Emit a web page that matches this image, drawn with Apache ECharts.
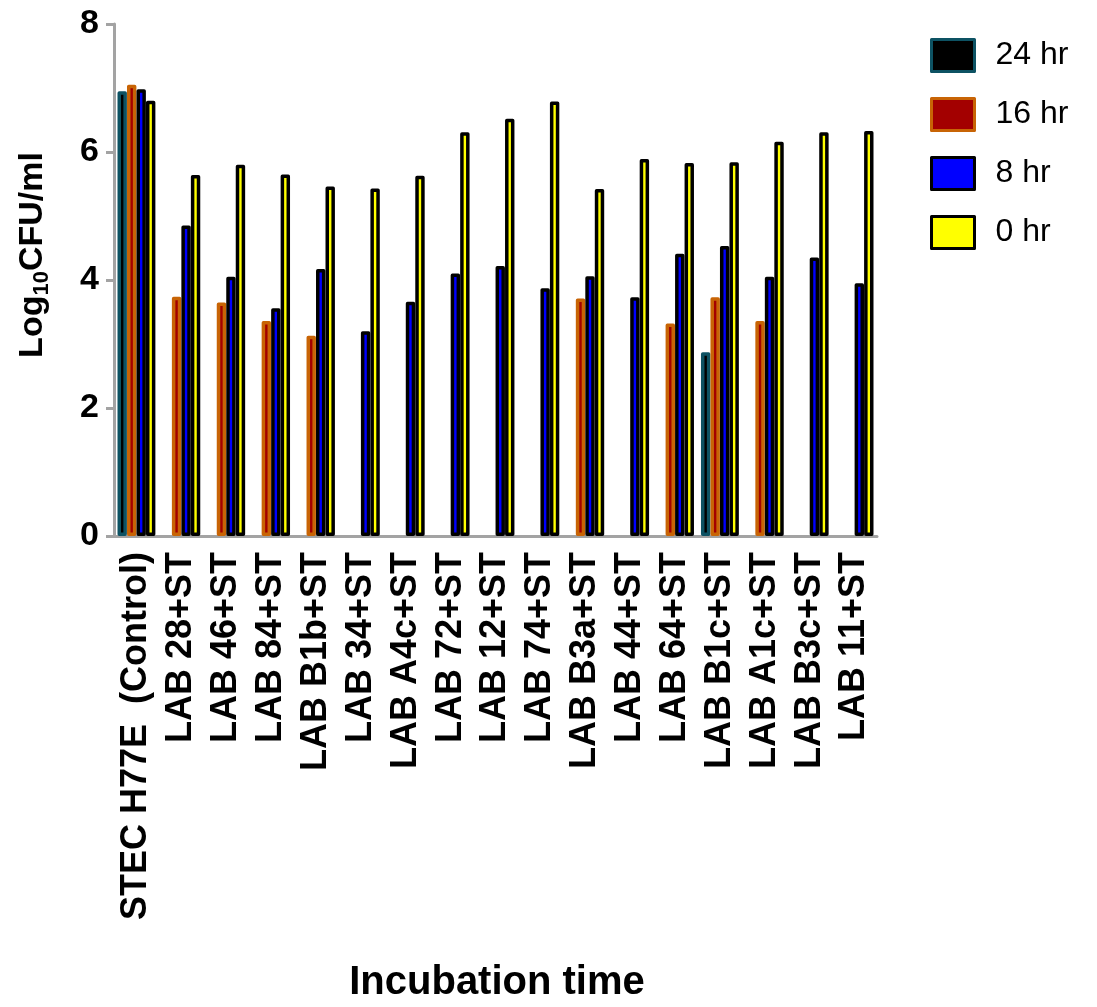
<!DOCTYPE html>
<html>
<head>
<meta charset="utf-8">
<script src="https://cdn.jsdelivr.net/npm/echarts@6/dist/echarts.min.js"></script>
<style>html,body{margin:0;padding:0;background:#fff}#c{width:1097px;height:1007px}</style>
</head>
<body>
<div id="c"></div>
<script>
const categories = ['STEC H77E  (Control)', 'LAB 28+ST', 'LAB 46+ST', 'LAB 84+ST', 'LAB B1b+ST', 'LAB 34+ST', 'LAB A4c+ST', 'LAB 72+ST', 'LAB 12+ST', 'LAB 74+ST', 'LAB B3a+ST', 'LAB 44+ST', 'LAB 64+ST', 'LAB B1c+ST', 'LAB A1c+ST', 'LAB B3c+ST', 'LAB 11+ST'];
const hr24 = [6.95, null, null, null, null, null, null, null, null, null, null, null, null, 2.87, null, null, null];
const hr16 = [7.05, 3.74, 3.65, 3.36, 3.13, null, null, null, null, null, 3.71, null, 3.32, 3.73, 3.36, null, null];
const hr8 = [6.98, 4.85, 4.05, 3.56, 4.17, 3.20, 3.66, 4.10, 4.22, 3.87, 4.06, 3.73, 4.41, 4.53, 4.05, 4.35, 3.95];
const hr0 = [6.80, 5.64, 5.80, 5.65, 5.46, 5.43, 5.63, 6.31, 6.52, 6.79, 5.42, 5.89, 5.83, 5.84, 6.16, 6.31, 6.33];
const yTicks = [0, 2, 4, 6, 8];

const FONT = 'Liberation Sans, Arial, sans-serif';
const GRAY = '#a3a3a3';
const chart = echarts.init(document.getElementById('c'), null, {renderer: 'canvas'});

function barSeries(name, data, fill, border) {
  return {
    name: name, type: 'bar', data: data,
    barWidth: 9.4, barGap: '1%',
    itemStyle: {color: fill, borderColor: border, borderWidth: 3.5, borderJoin: 'round'},
    emphasis: {disabled: true},
    animation: false
  };
}

chart.setOption({
  animation: false,
  backgroundColor: '#fff',
  textStyle: {fontFamily: FONT},
  grid: {left: 114, right: 220, top: 24, bottom: 471, containLabel: false},
  legend: {
    orient: 'vertical', left: 930, top: 38, padding: 0,
    itemWidth: 43, itemHeight: 32, itemGap: 24,
    icon: 'rect',
    selectedMode: false,
    data: ['24 hr', '16 hr', '8 hr', '0 hr'],
    textStyle: {fontFamily: FONT, fontSize: 32, color: '#000', lineHeight: 32, padding: [0, 0, 0, 16]},
    itemStyle: {borderWidth: 3}
  },
  xAxis: {
    type: 'category', data: categories,
    axisLine: {lineStyle: {color: GRAY, width: 3}},
    axisTick: {alignWithLabel: true, interval: 0, length: 8, lineStyle: {color: GRAY, width: 3}},
    axisLabel: {interval: 0, rotate: 90, margin: 16, fontFamily: FONT, fontSize: 36, fontWeight: 'bold', color: '#000'}
  },
  yAxis: {
    type: 'value', min: 0, max: 8, interval: 2,
    axisLine: {show: true, lineStyle: {color: GRAY, width: 3}},
    axisTick: {show: true, length: 8, lineStyle: {color: GRAY, width: 3}},
    splitLine: {show: false},
    axisLabel: {margin: 15, fontFamily: FONT, fontSize: 34, fontWeight: 'bold', color: '#000',
      formatter: function (v) { return yTicks.indexOf(v) >= 0 ? String(v) : ''; }}
  },
  graphic: [
    {
      type: 'text', x: 33, y: 255, rotation: Math.PI / 2,
      style: {
        text: '{a|Log}{s|10}{a|CFU/ml}',
        align: 'center', verticalAlign: 'middle',
        fill: '#000',
        rich: {
          a: {fontFamily: FONT, fontSize: 34, fontWeight: 'bold', fill: '#000', lineHeight: 40, verticalAlign: 'middle'},
          s: {fontFamily: FONT, fontSize: 22, fontWeight: 'bold', fill: '#000', lineHeight: 40, verticalAlign: 'bottom', padding: [14, 0, 0, 0]}
        }
      }
    },
    {
      type: 'text', x: 497, y: 983,
      style: {text: 'Incubation time', align: 'center', verticalAlign: 'middle',
        fontFamily: FONT, fontSize: 40, fontWeight: 'bold', fill: '#000'}
    }
  ],
  series: [
    barSeries('24 hr', hr24, '#000000', '#0d5263'),
    barSeries('16 hr', hr16, '#a30000', '#c86405'),
    barSeries('8 hr', hr8, '#0000ff', '#000000'),
    barSeries('0 hr', hr0, '#ffff00', '#000000')
  ]
});
</script>
</body>
</html>
